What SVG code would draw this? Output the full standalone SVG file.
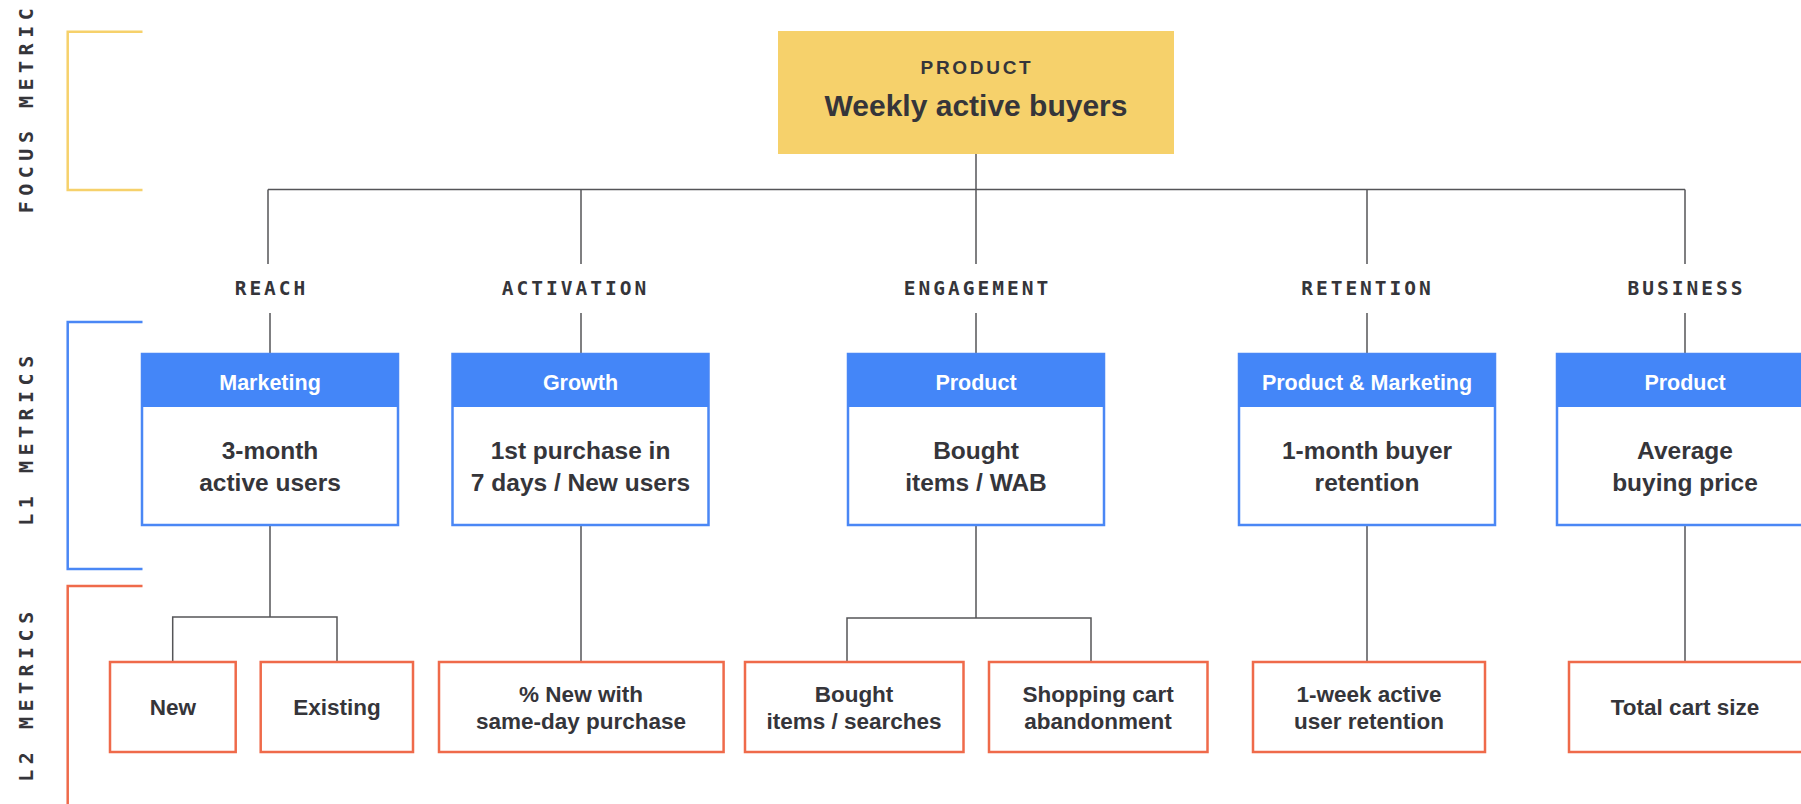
<svg xmlns="http://www.w3.org/2000/svg" width="1801" height="804" viewBox="0 0 1801 804">
<style>
.bg{fill:#ffffff}
.side{font-family:"DejaVu Sans Mono","Liberation Mono",monospace;font-weight:700;font-size:20px;letter-spacing:5.5px;fill:#35353a;text-anchor:middle}
.cat{font-family:"DejaVu Sans Mono","Liberation Mono",monospace;font-weight:700;font-size:19.5px;letter-spacing:3px;fill:#35353a;text-anchor:middle}
.conn{stroke:#555558;stroke-width:1.5;fill:none}
.l1box{fill:#ffffff;stroke:#4a87f5;stroke-width:2.5}
.l1head{fill:#4486f8}
.l1h{font-family:"Liberation Sans",Arial,sans-serif;font-weight:700;font-size:21.5px;fill:#ffffff;text-anchor:middle}
.l1t{font-family:"Liberation Sans",Arial,sans-serif;font-weight:700;font-size:24.5px;fill:#35353a;text-anchor:middle}
.l2box{fill:#ffffff;stroke:#ef6a4a;stroke-width:2.5}
.l2t{font-family:"Liberation Sans",Arial,sans-serif;font-weight:700;font-size:22.5px;fill:#35353a;text-anchor:middle}
.top{fill:#f6d16b}
.toplab{font-family:"Liberation Sans",Arial,sans-serif;font-weight:700;font-size:19px;letter-spacing:2.7px;fill:#35353a;text-anchor:middle}
.toptxt{font-family:"Liberation Sans",Arial,sans-serif;font-weight:700;font-size:30px;fill:#35353a;text-anchor:middle}
</style>
<rect class="bg" x="0" y="0" width="1801" height="804"/>

<g id="side-labels">
  <path d="M142.5,31.7 H67.7 V190 H142.5" fill="none" stroke="#f6d16b" stroke-width="2.5"/>
  <path d="M142.5,322 H67.7 V569 H142.5" fill="none" stroke="#4a87f5" stroke-width="2.5"/>
  <path d="M142.5,586 H67.7 V806" fill="none" stroke="#ef6a4a" stroke-width="2.5"/>
  <text class="side" transform="translate(33,108) rotate(-90)">FOCUS METRIC</text>
  <text class="side" transform="translate(33,438) rotate(-90)">L1 METRICS</text>
  <text class="side" transform="translate(33,694) rotate(-90)">L2 METRICS</text>
</g>

<g id="connectors">
  <path class="conn" d="M976,154 V189.5"/>
  <path class="conn" d="M268,189.5 H1685"/>
  <path class="conn" d="M268,189.5 V264 M581,189.5 V264 M976,189.5 V264 M1367,189.5 V264 M1685,189.5 V264"/>
  <path class="conn" d="M270,313 V354 M581,313 V354 M976,313 V354 M1367,313 V354 M1685,313 V354"/>
  <path class="conn" d="M270,525 V617 M172.7,662 V617 H337 V662"/>
  <path class="conn" d="M581,525 V662"/>
  <path class="conn" d="M976,525 V618 M847,662 V618 H1091 V662"/>
  <path class="conn" d="M1367,525 V662"/>
  <path class="conn" d="M1685,525 V662"/>
</g>

<g id="focus">
  <rect class="top" x="778" y="31" width="396" height="123"/>
  <text class="toplab" x="977" y="74">PRODUCT</text>
  <text class="toptxt" x="976" y="116">Weekly active buyers</text>
</g>

<g id="cat-reach"><text class="cat" x="271.5" y="295">REACH</text></g>
<g id="cat-activation"><text class="cat" x="575.5" y="295">ACTIVATION</text></g>
<g id="cat-engagement"><text class="cat" x="977.5" y="295">ENGAGEMENT</text></g>
<g id="cat-retention"><text class="cat" x="1367.5" y="295">RETENTION</text></g>
<g id="cat-business"><text class="cat" x="1686.5" y="295">BUSINESS</text></g>

<g id="l1-reach">
  <rect class="l1box" x="142" y="354" width="256" height="171"/>
  <rect class="l1head" x="142" y="354" width="256" height="53"/>
  <text class="l1h" x="270" y="390">Marketing</text>
  <text class="l1t" x="270" y="459">3-month</text>
  <text class="l1t" x="270" y="491">active users</text>
</g>
<g id="l1-activation">
  <rect class="l1box" x="452.5" y="354" width="256" height="171"/>
  <rect class="l1head" x="452.5" y="354" width="256" height="53"/>
  <text class="l1h" x="580.5" y="390">Growth</text>
  <text class="l1t" x="580.5" y="459">1st purchase in</text>
  <text class="l1t" x="580.5" y="491">7 days / New users</text>
</g>
<g id="l1-engagement">
  <rect class="l1box" x="848" y="354" width="256" height="171"/>
  <rect class="l1head" x="848" y="354" width="256" height="53"/>
  <text class="l1h" x="976" y="390">Product</text>
  <text class="l1t" x="976" y="459">Bought</text>
  <text class="l1t" x="976" y="491">items / WAB</text>
</g>
<g id="l1-retention">
  <rect class="l1box" x="1239" y="354" width="256" height="171"/>
  <rect class="l1head" x="1239" y="354" width="256" height="53"/>
  <text class="l1h" x="1367" y="390">Product &amp; Marketing</text>
  <text class="l1t" x="1367" y="459">1-month buyer</text>
  <text class="l1t" x="1367" y="491">retention</text>
</g>
<g id="l1-business">
  <rect class="l1box" x="1557" y="354" width="256" height="171"/>
  <rect class="l1head" x="1557" y="354" width="256" height="53"/>
  <text class="l1h" x="1685" y="390">Product</text>
  <text class="l1t" x="1685" y="459">Average</text>
  <text class="l1t" x="1685" y="491">buying price</text>
</g>

<g id="l2-new">
  <rect class="l2box" x="110" y="662" width="125.7" height="90"/>
  <text class="l2t" x="173" y="715">New</text>
</g>
<g id="l2-existing">
  <rect class="l2box" x="260.7" y="662" width="152.3" height="90"/>
  <text class="l2t" x="337" y="715">Existing</text>
</g>
<g id="l2-new-sameday">
  <rect class="l2box" x="439" y="662" width="284.6" height="90"/>
  <text class="l2t" x="581" y="701.5">% New with</text>
  <text class="l2t" x="581" y="729">same-day purchase</text>
</g>
<g id="l2-bought-searches">
  <rect class="l2box" x="745" y="662" width="218.5" height="90"/>
  <text class="l2t" x="854" y="701.5">Bought</text>
  <text class="l2t" x="854" y="729">items / searches</text>
</g>
<g id="l2-cart-abandon">
  <rect class="l2box" x="989" y="662" width="218.5" height="90"/>
  <text class="l2t" x="1098" y="701.5">Shopping cart</text>
  <text class="l2t" x="1098" y="729">abandonment</text>
</g>
<g id="l2-week-retention">
  <rect class="l2box" x="1253" y="662" width="232" height="90"/>
  <text class="l2t" x="1369" y="701.5">1-week active</text>
  <text class="l2t" x="1369" y="729">user retention</text>
</g>
<g id="l2-cart-size">
  <rect class="l2box" x="1569" y="662" width="236" height="90"/>
  <text class="l2t" x="1685" y="715">Total cart size</text>
</g>
</svg>
